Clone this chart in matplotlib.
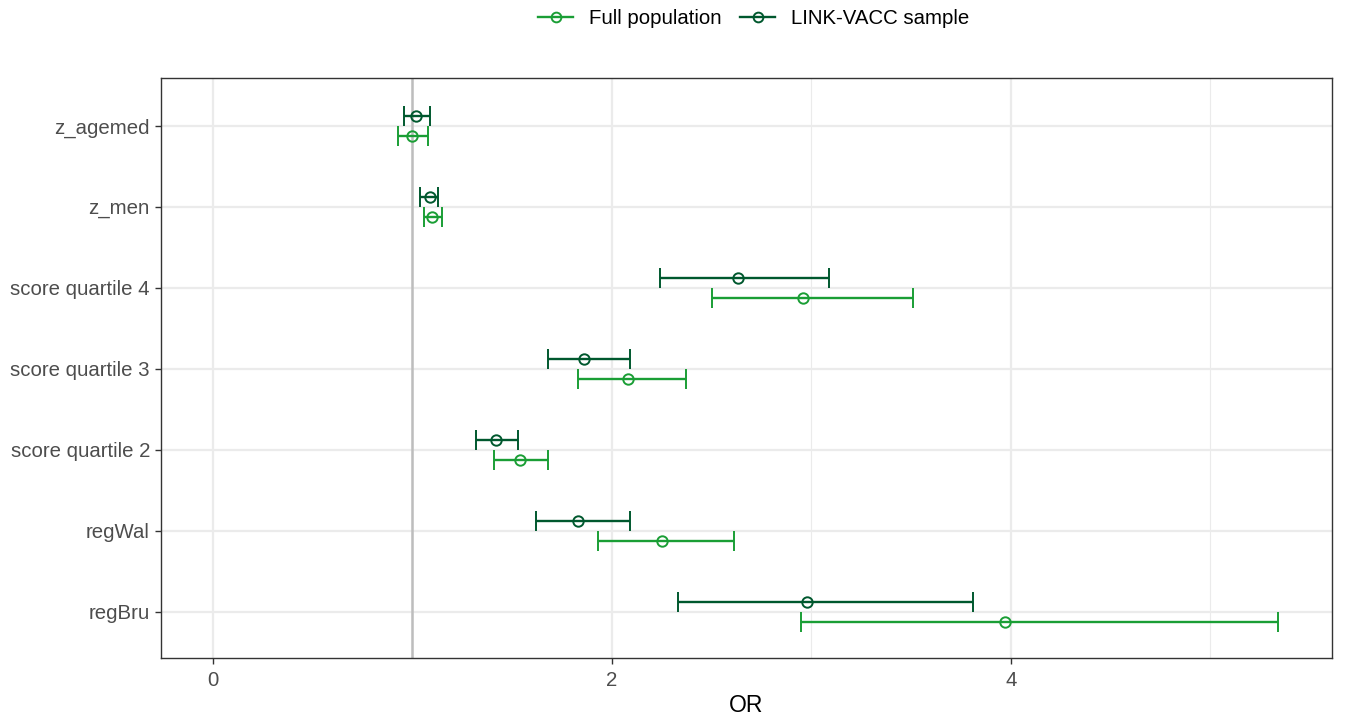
import numpy as np
import matplotlib
matplotlib.use("Agg")
import matplotlib.pyplot as plt
from matplotlib.lines import Line2D

# Odds ratios with 95% CI
variables = ['z_agemed', 'z_men', 'score quartile 4', 'score quartile 3',
             'score quartile 2', 'regWal', 'regBru']

full_or = [1.00, 1.10, 2.96, 2.08, 1.54, 2.25, 3.97]
full_lo = [0.93, 1.06, 2.50, 1.83, 1.41, 1.93, 2.95]
full_hi = [1.08, 1.15, 3.51, 2.37, 1.68, 2.61, 5.34]

link_or = [1.02, 1.09, 2.63, 1.86, 1.42, 1.83, 2.98]
link_lo = [0.96, 1.04, 2.24, 1.68, 1.32, 1.62, 2.33]
link_hi = [1.09, 1.13, 3.09, 2.09, 1.53, 2.09, 3.81]

series_names = ['Full population', 'LINK-VACC sample']
colores = ['#1a9e35', '#00582e']

plt.rcParams['font.family'] = ['Liberation Sans', 'DejaVu Sans']

fig = plt.figure(figsize=(13.46, 7.2), dpi=100)
ax = fig.add_axes([161 / 1346, 62 / 720, (1332 - 161) / 1346, (658 - 78) / 720])

n = len(variables)
y = np.arange(n, 0, -1).astype(float)  # z_agemed on top
dodge = 0.125

series = [
    (full_or, full_lo, full_hi, -dodge),
    (link_or, link_lo, link_hi, +dodge),
]

for (est, lo, hi, off), color in zip(series, colores):
    est = np.array(est)
    err = [est - np.array(lo), np.array(hi) - est]
    ax.errorbar(est, y + off, xerr=err, fmt='o', color=color, ecolor=color,
                elinewidth=1.7, capsize=7.5, capthick=1.8,
                markerfacecolor='none', markeredgecolor=color, markeredgewidth=1.4,
                markersize=7.5, zorder=3)

# reference line at OR = 1
ax.axvline(1, color='#bdbdbd', linewidth=1.8, zorder=2)

ax.set_xlim(-0.26, 5.61)
ax.set_ylim(0.43, n + 0.59)
ax.set_xticks([0, 2, 4])
ax.set_xticks([1, 3, 5], minor=True)
ax.set_yticks(y)
ax.set_yticklabels(variables)

ax.grid(which='major', color='#ebebeb', linewidth=1.6, zorder=0)
ax.grid(which='minor', axis='x', color='#ebebeb', linewidth=0.8, zorder=0)
ax.set_axisbelow(True)

ax.tick_params(which='major', length=4, width=1.0, color='#333333',
               labelcolor='#4d4d4d', labelsize=14.7, pad=4)
ax.tick_params(axis='x', which='major', pad=5.5)
ax.tick_params(which='minor', length=0)
for s in ax.spines.values():
    s.set_color('#333333')
    s.set_linewidth(1.0)

ax.set_xlabel('OR', fontsize=16.5, labelpad=3)

handles = [Line2D([], [], color=c, linewidth=1.7, marker='o', markersize=7,
                  markerfacecolor='none', markeredgewidth=1.4) for c in colores]
fig.legend(handles, series_names, loc='center', bbox_to_anchor=(754 / 1346, 1 - 19 / 720),
           ncol=2, frameon=False, fontsize=14.7, handlelength=1.7, columnspacing=0.9,
           handletextpad=0.8)

fig.savefig('out.png', dpi=100)
